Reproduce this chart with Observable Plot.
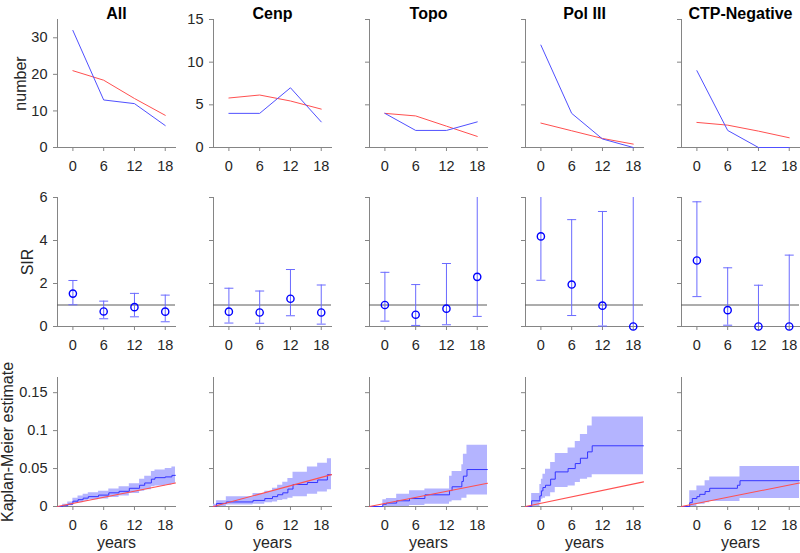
<!DOCTYPE html>
<html>
<head>
<meta charset="utf-8">
<script src="https://cdn.jsdelivr.net/npm/d3@7"></script>
<script src="https://cdn.jsdelivr.net/npm/@observablehq/plot@0.6"></script>
<style>
  body { margin: 0; background: #fff; overflow: hidden; }
  #chart { position: relative; width: 800px; height: 553px; font-family: "Liberation Sans", Arial, sans-serif; }
  #chart svg { position: absolute; }
  #chart g[aria-label*="axis"] text { fill: #262626; }
</style>
</head>
<body>
<div id="chart"></div>
<script>
// ---------------- data ----------------
const groups = ["All", "Cenp", "Topo", "Pol III", "CTP-Negative"];
const rowLabels = ["number", "SIR", "Kaplan-Meier estimate"];
const periodStarts = [0, 6, 12, 18];
const yearTicks = [0, 6, 12, 18];
const yearDomain = [-3, 20];

// Row 1: observed (blue) and expected (red) counts per period
const observedCounts = [
  [32, 13, 12, 6],
  [4, 4, 7, 3],
  [4, 2, 2, 3],
  [12, 4, 1, 0],
  [9, 2, 0, 0]
];
const expectedCounts = [
  [21, 18.4, 13.4, 8.8],
  [5.8, 6.15, 5.45, 4.5],
  [4.0, 3.7, 2.5, 1.3],
  [2.86, 1.96, 1.06, 0.4],
  [2.94, 2.62, 1.92, 1.14]
];
const countTicksAll = [0, 10, 20, 30];
const countTicksSub = [0, 5, 10, 15];

// Row 2: standardized incidence ratio with confidence limits
const sirEstimate = [
  [1.53, 0.70, 0.90, 0.69],
  [0.69, 0.65, 1.29, 0.65],
  [1.00, 0.55, 0.83, 2.31],
  [4.19, 1.95, 0.97, 0],
  [3.07, 0.76, 0, 0]
];
const sirLower = [
  [1.01, 0.36, 0.45, 0.22],
  [0.16, 0.15, 0.50, 0.11],
  [0.25, 0.05, 0.08, 0.47],
  [2.15, 0.51, 0.02, 0],
  [1.39, 0.06, 0, 0]
];
const sirUpper = [
  [2.14, 1.18, 1.54, 1.46],
  [1.78, 1.65, 2.65, 1.93],
  [2.52, 1.95, 2.93, 12.9],
  [7.5, 4.97, 5.35, 20],
  [5.8, 2.73, 1.92, 3.32]
];
const sirTicks = [0, 2, 4, 6];
const sirReference = [1];

// Row 3: Kaplan-Meier cumulative incidence (step), CI band, expected line
const kmTimes = [
  [-3, -2, -1, 0, 1, 2, 3, 5, 7, 9, 11, 13, 14, 15.3, 16, 18, 19.3, 20],
  [-3, -2.4, -0.5, 4.7, 7, 8.5, 9.5, 10.5, 11.5, 12.5, 15.3, 17.3, 19.2, 20],
  [-3, -0.4, 0.3, 2.3, 4.8, 7.8, 12.6, 13.1, 15, 15.3, 16, 20],
  [-3, -1.8, -0.2, 0.1, 0.4, 0.9, 1.9, 2.8, 5.3, 6.7, 7.7, 9.1, 10, 20],
  [-3, -1.4, -0.9, 0, 0.55, 1.6, 2.5, 7.9, 8.4, 20]
];
const kmEstimate = [
  [0, 0.001, 0.003, 0.007, 0.009, 0.011, 0.013, 0.015, 0.018, 0.020, 0.024, 0.028, 0.031, 0.036, 0.038, 0.039, 0.041, 0.041],
  [0, 0.004, 0.006, 0.008, 0.0105, 0.013, 0.0155, 0.018, 0.023, 0.029, 0.0316, 0.035, 0.042, 0.042],
  [0, 0.003, 0.0045, 0.0075, 0.0105, 0.0154, 0.021, 0.026, 0.033, 0.040, 0.0487, 0.0487],
  [0, 0.0075, 0.014, 0.0206, 0.025, 0.028, 0.036, 0.0456, 0.050, 0.0566, 0.0636, 0.072, 0.080, 0.080],
  [0, 0.005, 0.0105, 0.013, 0.016, 0.0197, 0.024, 0.028, 0.034, 0.034]
];
const kmLower = [
  [0, 0, 0.001, 0.004, 0.005, 0.007, 0.009, 0.010, 0.012, 0.014, 0.017, 0.020, 0.022, 0.026, 0.027, 0.028, 0.030, 0.030],
  [0, 0, 0.002, 0.003, 0.005, 0.006, 0.008, 0.009, 0.011, 0.013, 0.016, 0.019, 0.022, 0.022],
  [0, 0, 0, 0, 0.0013, 0.003, 0.006, 0.0075, 0.011, 0.011, 0.015, 0.015],
  [0, 0, 0.005, 0.0096, 0.011, 0.0127, 0.018, 0.025, 0.027, 0.0316, 0.036, 0.038, 0.0417, 0.0417],
  [0, 0, 0, 0.003, 0.003, 0.005, 0.0066, 0.0066, 0.0105, 0.0105]
];
const kmUpper = [
  [0, 0.003, 0.006, 0.011, 0.014, 0.016, 0.018, 0.020, 0.023, 0.026, 0.030, 0.036, 0.040, 0.046, 0.048, 0.050, 0.052, 0.052],
  [0.003, 0.0075, 0.013, 0.017, 0.020, 0.024, 0.028, 0.032, 0.037, 0.045, 0.052, 0.057, 0.063, 0.063],
  [0, 0.009, 0.0105, 0.016, 0.0206, 0.023, 0.040, 0.046, 0.055, 0.069, 0.0807, 0.0807],
  [0, 0.017, 0.029, 0.036, 0.0425, 0.049, 0.058, 0.070, 0.077, 0.0855, 0.095, 0.106, 0.118, 0.118],
  [0, 0.0206, 0.0206, 0.027, 0.027, 0.034, 0.039, 0.039, 0.0526, 0.0526]
];
const expectedTimes = [-3, 20];
const expectedCumulative = [
  [0, 0.031],
  [0, 0.042],
  [0, 0.0307],
  [0, 0.0325],
  [0, 0.031]
];
const kmTicks = [0, 0.05, 0.1, 0.15];

// ---------------- styling / layout ----------------
const FONT = '"Liberation Sans", Arial, Helvetica, sans-serif';
const AXIS = "#858585";
const BLUE_LINE = "#5050ff";
const RED_LINE = "#ff5050";
const BAND = "#b4b4ff";
const KM_BLUE = "#3535ff";
const rows = [
  {top: 0, height: 177, mt: 19, mb: 30},
  {top: 177, height: 179, mt: 20, mb: 30},
  {top: 356, height: 197, mt: 21, mb: 47}
];
const labelDx = [-37, -30, -49.5];
const capSymbol = {
  draw(context, size) {
    const w = Math.sqrt(size / Math.PI);
    context.moveTo(-w, 0);
    context.lineTo(w, 0);
  }
};

const chart = document.getElementById("chart");

function panel(row, col) {
  const L = rows[row];
  const marks = [];
  let y;
  if (row === 0) {
    const obs = periodStarts.map((t, i) => ({t, v: observedCounts[col][i]}));
    const exp = periodStarts.map((t, i) => ({t, v: expectedCounts[col][i]}));
    marks.push(Plot.line(exp, {x: "t", y: "v", stroke: RED_LINE, strokeWidth: 1}));
    marks.push(Plot.line(obs, {x: "t", y: "v", stroke: BLUE_LINE, strokeWidth: 1}));
    y = col === 0
      ? {domain: [0, 35], ticks: countTicksAll}
      : {domain: [0, 15], ticks: countTicksSub};
    y.tickFormat = col <= 1 ? (d => String(d)) : (() => "");
    marks.push(Plot.text([groups[col]], {text: d => d, frameAnchor: "top", dy: -12, fontSize: 16, fontWeight: "bold", fill: "#000"}));
  } else if (row === 1) {
    const pts = periodStarts.map((t, i) => ({t, est: sirEstimate[col][i], lo: sirLower[col][i], hi: sirUpper[col][i]}));
    const caps = [];
    pts.forEach(d => { [d.lo, d.hi].forEach(v => { if (v > 0 && v <= 6) caps.push({t: d.t, v}); }); });
    marks.push(Plot.ruleY(sirReference, {stroke: "#5a5a5a", strokeWidth: 1}));
    marks.push(Plot.ruleX(pts, {x: "t", y1: "lo", y2: "hi", stroke: "#6a6aff", strokeWidth: 1}));
    marks.push(Plot.dot(caps, {x: "t", y: "v", symbol: capSymbol, r: 4.5, stroke: "#6a6aff", fill: "none", strokeWidth: 1}));
    marks.push(Plot.dot(pts, {x: "t", y: "est", r: 3.6, stroke: "#0000ff", fill: "none", strokeWidth: 1.4}));
    y = {domain: [0, 6], ticks: sirTicks, clamp: true, tickFormat: col === 0 ? (d => String(d)) : (() => "")};
  } else {
    const km = kmTimes[col].map((t, i) => ({t, est: kmEstimate[col][i], lo: kmLower[col][i], hi: kmUpper[col][i]}));
    const exp = expectedTimes.map((t, i) => ({t, v: expectedCumulative[col][i]}));
    marks.push(Plot.areaY(km, {x: "t", y1: "lo", y2: "hi", curve: "step-after", fill: BAND, fillOpacity: 1}));
    marks.push(Plot.line(km, {x: "t", y: "est", curve: "step-after", stroke: KM_BLUE, strokeWidth: 1}));
    marks.push(Plot.line(exp, {x: "t", y: "v", stroke: RED_LINE, strokeWidth: 1.1}));
    y = {domain: [0, 0.17], ticks: kmTicks, tickFormat: col === 0 ? (d => String(d)) : (() => "")};
    marks.push(Plot.text(["years"], {text: d => d, frameAnchor: "bottom", dy: 41, fontSize: 16, fill: "#262626"}));
  }
  if (col === 0) {
    marks.push(Plot.text([rowLabels[row]], {text: d => d, frameAnchor: "left", textAnchor: "middle", dx: labelDx[row], rotate: -90, fontSize: 16, fill: "#262626"}));
  }
  Object.assign(y, {tickSize: 4, tickPadding: 6, line: true, label: null});
  const svg = Plot.plot({
    width: 176,
    height: L.height,
    marginLeft: 57,
    marginRight: 1,
    marginTop: L.mt,
    marginBottom: L.mb,
    style: {background: "transparent", overflow: "visible", color: AXIS, fontSize: "14.5px", fontFamily: FONT},
    x: {domain: yearDomain, ticks: yearTicks, tickSize: 4, tickPadding: 9, line: true, label: null, tickFormat: d => String(d)},
    y,
    marks
  });
  svg.style.position = "absolute";
  svg.style.left = (col * 156) + "px";
  svg.style.top = L.top + "px";
  chart.appendChild(svg);
}

for (let r = 0; r < 3; r++) for (let c = 0; c < groups.length; c++) panel(r, c);
</script>
</body>
</html>
